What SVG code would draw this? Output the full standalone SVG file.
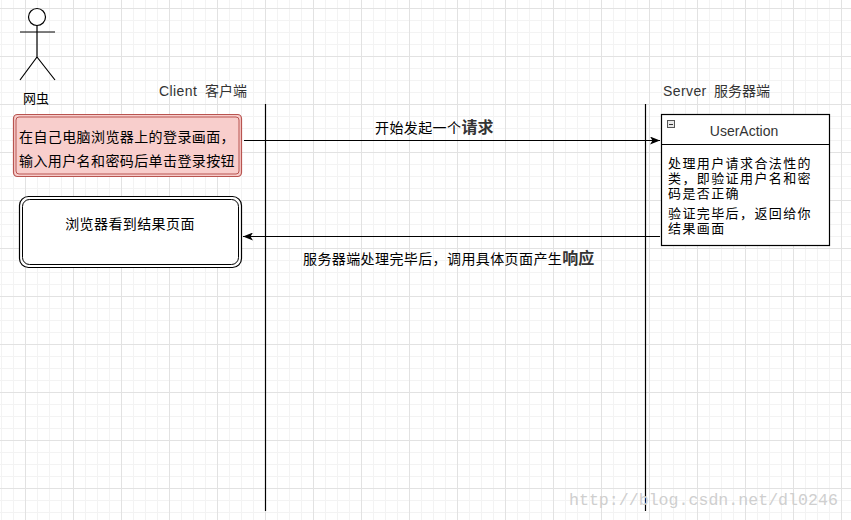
<svg xmlns="http://www.w3.org/2000/svg" width="851" height="520" viewBox="0 0 851 520">
<style>
.cn{font-family:"Noto Sans CJK SC","Liberation Sans",sans-serif;font-size:14px;fill:#000;letter-spacing:0.4px}
.cb{font-family:"Noto Sans CJK SC","Liberation Sans",sans-serif;font-size:13px;fill:#000;letter-spacing:1.4px}
.lbl{font-family:"Liberation Sans","Noto Sans CJK SC",sans-serif;font-size:14px;fill:#333;letter-spacing:0.4px}
.big{font-family:"Noto Sans CJK SC",sans-serif;font-size:16px;font-weight:bold;fill:#333;letter-spacing:0}
.life{stroke:#000;stroke-width:1.2;fill:none}
.conn{stroke:#000;stroke-width:1.2;fill:none}
</style>
<defs>
<pattern id="grid" x="25" y="8" width="48" height="48" patternUnits="userSpaceOnUse">
<path d="M12.5,0V48M24.5,0V48M36.5,0V48M0,12.5H48M0,24.5H48M0,36.5H48" stroke="#f3f3f3" stroke-width="1"/>
<path d="M0.5,0V48M0,0.5H48" stroke="#e2e2e2" stroke-width="1"/>
</pattern>
<marker id="arr" viewBox="0 0 10 8" refX="10" refY="4" markerWidth="10" markerHeight="8" markerUnits="userSpaceOnUse" orient="auto">
<path d="M0,0 L10,4 L0,8 L2.5,4 z" fill="#000"/>
</marker>
</defs>
<rect width="851" height="520" fill="#fff"/>
<rect width="851" height="520" fill="url(#grid)"/>

<g id="actor" stroke="#000" stroke-width="1.2" fill="none">
<circle cx="37" cy="17" r="8.5" fill="#fff"/>
<path d="M37,25.5V57M20,32H55M37,57L20,80M37,57L55,80"/>
<text x="36" y="103" text-anchor="middle" class="cn" stroke="none" style="font-size:13px;letter-spacing:0">网虫</text>
</g>

<g id="client-label"><text x="159" y="96" class="lbl">Client<tspan x="205" style="letter-spacing:0">客户端</tspan></text></g>
<g id="server-label"><text x="663" y="96" class="lbl">Server<tspan x="714" style="letter-spacing:0">服务器端</tspan></text></g>

<g id="lifelines">
<path class="life" d="M265.5,104V511"/>
<path class="life" d="M645.5,104V511"/>
</g>

<g id="login-box">
<rect x="13.5" y="114.5" width="228" height="62" rx="4" fill="#f8cecc" stroke="#b85450" stroke-width="1.2"/>
<rect x="16" y="117" width="223" height="57" rx="3" fill="none" stroke="#b85450" stroke-width="1"/>
<text x="19" y="142" class="cn">在自己电脑浏览器上的登录画面，</text>
<text x="19" y="166" class="cn">输入用户名和密码后单击登录按钮</text>
</g>

<g id="result-box">
<rect x="19.5" y="196.5" width="222" height="71" rx="9" fill="#fff" stroke="#000" stroke-width="1.2"/>
<rect x="22.5" y="199.5" width="216" height="65" rx="7" fill="none" stroke="#000" stroke-width="1"/>
<text x="130" y="229" text-anchor="middle" class="cn">浏览器看到结果页面</text>
</g>

<g id="useraction">
<rect x="661.5" y="114.5" width="168" height="131" fill="#fff" stroke="#000" stroke-width="1.2"/>
<path d="M661.5,144.5H829.5" stroke="#000" stroke-width="1.2"/>
<rect x="667.5" y="120.5" width="7" height="7" fill="#e8e8e8" stroke="#555" stroke-width="1"/>
<path d="M669,124.5H673" stroke="#333" stroke-width="1"/>
<text x="744" y="136" text-anchor="middle" class="lbl" style="letter-spacing:0">UserAction</text>
<text class="cb">
<tspan x="668" y="168">处理用户请求合法性的</tspan>
<tspan x="668" y="183">类，即验证用户名和密</tspan>
<tspan x="668" y="198">码是否正确</tspan>
<tspan x="668" y="218">验证完毕后，返回给你</tspan>
<tspan x="668" y="233">结果画面</tspan>
</text>
</g>

<g id="connectors">
<path class="conn" d="M244,140.5H660" marker-end="url(#arr)"/>
<text x="375" y="133" class="cn">开始发起一个<tspan class="big">请求</tspan></text>
<path class="conn" d="M660,236.5H243" marker-end="url(#arr)"/>
<text x="303" y="264" class="cn">服务器端处理完毕后，调用具体页面产生<tspan class="big">响应</tspan></text>
</g>

<text x="569" y="505" font-family="Liberation Mono, monospace" font-size="16.6" fill="#cfcfcf">http://blog.csdn.net/dl0246</text>
</svg>
